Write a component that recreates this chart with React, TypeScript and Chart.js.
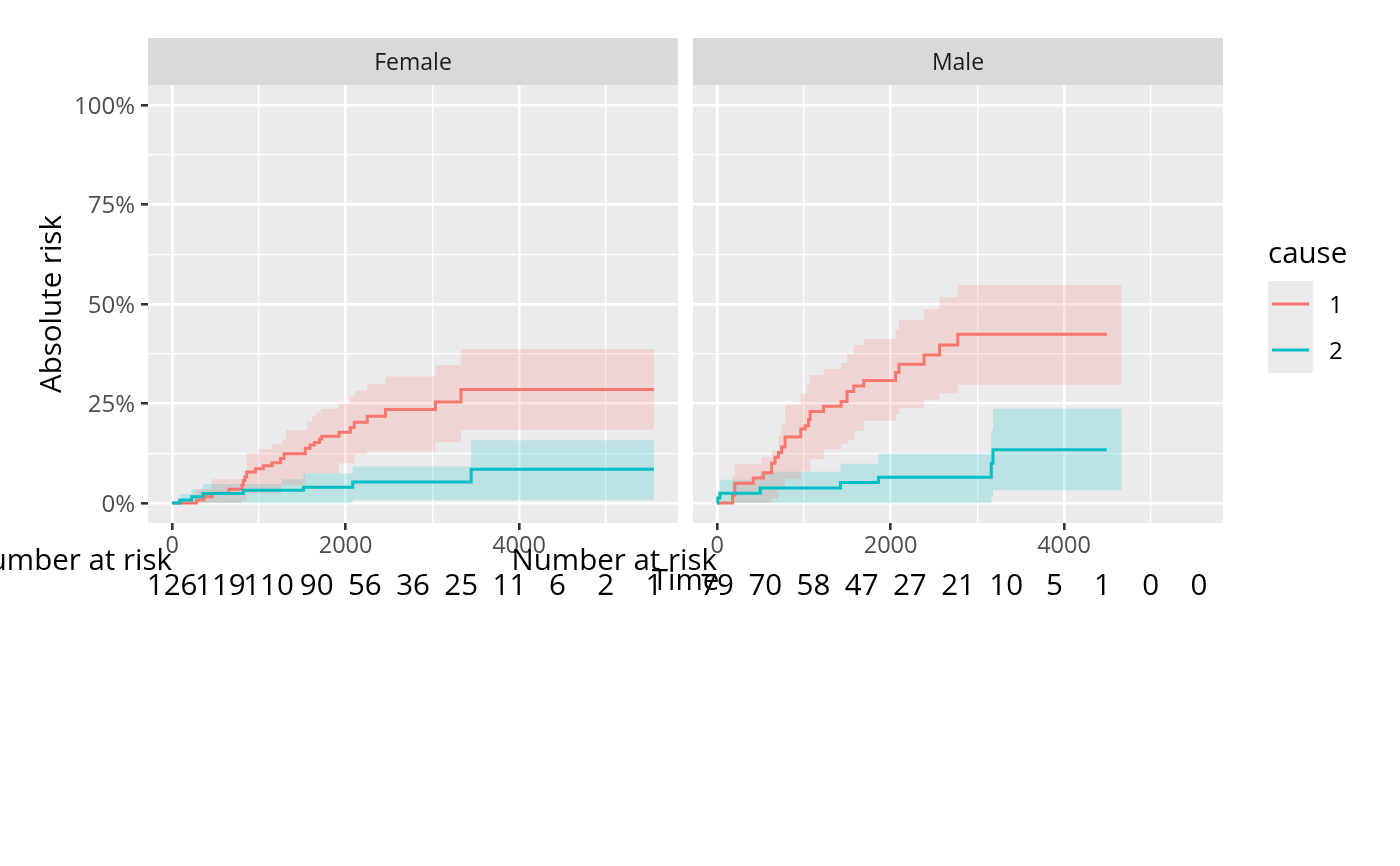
import { useEffect, useRef } from 'react';
import { Chart, registerables } from 'chart.js';

Chart.register(...registerables);

const W = 1400;
const H = 866;
const FONT = '"Open Sans", "Noto Sans", sans-serif';

const STRIP_TOP = 38;
const PANEL_TOP = 85;
const PANEL_BOTTOM = 523;

// shared scales (ggplot expands 0..5555 and 0..1 by 5%)
const xMin = -278;
const xMax = 5833;
const yMin = -0.05;
const yMax = 1.05;
const xGridValues = [0, 1000, 2000, 3000, 4000, 5000];
const xLabelled = [0, 2000, 4000];
const yGridValues = [0, 0.125, 0.25, 0.375, 0.5, 0.625, 0.75, 0.875, 1];
const yLabelled = [0, 0.25, 0.5, 0.75, 1];

const causes = ['1', '2'];
const causeColors = ['#F8766D', '#00BFC4'];
const bandColors = ['rgba(248,118,109,0.2)', 'rgba(0,191,196,0.2)'];

// number at risk table
const riskTimes = [0, 556, 1111, 1667, 2222, 2778, 3333, 3889, 4444, 5000, 5555];
const femaleAtRisk = [126, 119, 110, 90, 56, 36, 25, 11, 6, 2, 1];
const maleAtRisk = [79, 70, 58, 47, 27, 21, 10, 5, 1, 0, 0];

// Female, cause 1
const femaleC1Time = [0, 280, 370, 460, 655, 805, 822, 840, 860, 960, 1052, 1152, 1250, 1290, 1536, 1590, 1640, 1700, 1725, 1925, 2055, 2100, 2250, 2460, 3036, 3330, 5555];
const femaleC1Risk = [0, 0.008, 0.016, 0.025, 0.035, 0.045, 0.057, 0.066, 0.078, 0.086, 0.094, 0.101, 0.112, 0.124, 0.138, 0.146, 0.152, 0.161, 0.168, 0.178, 0.19, 0.203, 0.218, 0.235, 0.254, 0.285, 0.285];
const femaleC1UpperTime = [0, 280, 456, 861, 996, 1151, 1266, 1313, 1556, 1615, 1663, 1714, 1925, 2051, 2111, 2250, 2460, 3036, 3330, 5555];
const femaleC1Upper = [0, 0.035, 0.06, 0.125, 0.136, 0.148, 0.16, 0.183, 0.205, 0.219, 0.227, 0.237, 0.25, 0.267, 0.282, 0.299, 0.318, 0.347, 0.387, 0.387];
const femaleC1LowerTime = [0, 800, 860, 1266, 1536, 1925, 2100, 2250, 3036, 3330, 5555];
const femaleC1Lower = [0, 0.005, 0.025, 0.045, 0.075, 0.1, 0.122, 0.13, 0.153, 0.184, 0.184];

// Female, cause 2
const femaleC2Time = [0, 87, 226, 357, 821, 1516, 2083, 3448, 5555];
const femaleC2Risk = [0, 0.008, 0.016, 0.024, 0.032, 0.04, 0.053, 0.085, 0.085];
const femaleC2UpperTime = [0, 89, 224, 359, 1266, 1516, 2083, 3448, 5555];
const femaleC2Upper = [0, 0.023, 0.035, 0.048, 0.06, 0.075, 0.092, 0.158, 0.158];
const femaleC2LowerTime = [0, 2083, 5555];
const femaleC2Lower = [0, 0.008, 0.008];

// Male, cause 1
const maleC1Time = [0, 178, 205, 417, 533, 629, 668, 707, 745, 784, 965, 1015, 1054, 1073, 1228, 1429, 1498, 1575, 1691, 2058, 2097, 2386, 2565, 2775, 4493];
const maleC1Risk = [0, 0.02, 0.05, 0.063, 0.076, 0.1, 0.115, 0.127, 0.141, 0.166, 0.186, 0.194, 0.21, 0.23, 0.243, 0.255, 0.28, 0.294, 0.308, 0.328, 0.349, 0.372, 0.397, 0.424, 0.424];
const maleC1UpperTime = [0, 178, 205, 513, 629, 707, 745, 784, 965, 1034, 1073, 1228, 1431, 1498, 1575, 1691, 2058, 2099, 2386, 2565, 2775, 4664];
const maleC1Upper = [0, 0.07, 0.099, 0.115, 0.133, 0.169, 0.2, 0.247, 0.275, 0.3, 0.322, 0.337, 0.352, 0.375, 0.397, 0.412, 0.435, 0.46, 0.487, 0.517, 0.548, 0.548];
const maleC1LowerTime = [0, 629, 707, 784, 965, 1073, 1228, 1431, 1511, 1582, 1690, 2060, 2099, 2386, 2565, 2775, 4664];
const maleC1Lower = [0, 0.01, 0.035, 0.06, 0.08, 0.11, 0.135, 0.149, 0.159, 0.181, 0.207, 0.224, 0.238, 0.258, 0.276, 0.297, 0.297];

// Male, cause 2
const maleC2Time = [0, 8, 32, 497, 1423, 1861, 3161, 3181, 4493];
const maleC2Risk = [0, 0.0125, 0.025, 0.038, 0.052, 0.065, 0.1, 0.134, 0.134];
const maleC2UpperTime = [0, 8, 32, 497, 1423, 1861, 3161, 3181, 4664];
const maleC2Upper = [0, 0.03, 0.0585, 0.079, 0.099, 0.124, 0.184, 0.237, 0.237];
const maleC2LowerTime = [0, 3161, 3181, 4664];
const maleC2Lower = [0, 0.017, 0.032, 0.032];

const pts = (t: number[], v: number[]) => t.map((x, i) => ({ x, y: v[i] }));

interface PanelSpec {
    name: string;
    left: number;
    right: number;
    yAxisWidth: number;
    atRisk: number[];
    series: { t: number[]; v: number[]; ut: number[]; u: number[]; lt: number[]; l: number[] }[];
    first: boolean;
}

const panels: PanelSpec[] = [
    {
        name: 'Female', left: 148, right: 678, yAxisWidth: 148, atRisk: femaleAtRisk, first: true,
        series: [
            { t: femaleC1Time, v: femaleC1Risk, ut: femaleC1UpperTime, u: femaleC1Upper, lt: femaleC1LowerTime, l: femaleC1Lower },
            { t: femaleC2Time, v: femaleC2Risk, ut: femaleC2UpperTime, u: femaleC2Upper, lt: femaleC2LowerTime, l: femaleC2Lower },
        ],
    },
    {
        name: 'Male', left: 693, right: 1223, yAxisWidth: 0, atRisk: maleAtRisk, first: false,
        series: [
            { t: maleC1Time, v: maleC1Risk, ut: maleC1UpperTime, u: maleC1Upper, lt: maleC1LowerTime, l: maleC1Lower },
            { t: maleC2Time, v: maleC2Risk, ut: maleC2UpperTime, u: maleC2Upper, lt: maleC2LowerTime, l: maleC2Lower },
        ],
    },
];

const decorPlugin = {
    id: 'decor',
    beforeDraw(chart: any) {
        const { ctx, chartArea: a } = chart;
        ctx.save();
        ctx.fillStyle = '#EBEBEB';
        ctx.fillRect(a.left, a.top, a.right - a.left, a.bottom - a.top);
        ctx.restore();
    },
    afterDraw(chart: any, _args: any, opts: any) {
        const { ctx, chartArea: a } = chart;
        const x = chart.scales.x;
        ctx.save();

        // facet strip
        ctx.fillStyle = '#D9D9D9';
        ctx.fillRect(a.left, STRIP_TOP, a.right - a.left, a.top - STRIP_TOP);
        ctx.fillStyle = '#1A1A1A';
        ctx.font = `23px ${FONT}`;
        ctx.textAlign = 'center';
        ctx.textBaseline = 'alphabetic';
        ctx.fillText(opts.name, (a.left + a.right) / 2, 70);

        // number at risk
        ctx.fillStyle = '#000000';
        ctx.font = `29.5px ${FONT}`;
        ctx.textAlign = 'right';
        ctx.fillText('Number at risk', x.getPixelForValue(0), 570);

        if (opts.first) {
            ctx.textAlign = 'center';
            ctx.fillText('Time', 685.5, 590);
            ctx.save();
            ctx.translate(61, (a.top + a.bottom) / 2);
            ctx.rotate(-Math.PI / 2);
            ctx.fillText('Absolute risk', 0, 0);
            ctx.restore();
        }

        ctx.textAlign = 'center';
        opts.atRisk.forEach((n: number, i: number) => {
            ctx.fillText(String(n), x.getPixelForValue(riskTimes[i]), 595);
        });

        if (!opts.first) {
            // legend
            ctx.textAlign = 'left';
            ctx.fillText('cause', 1268, 263);
            ctx.fillStyle = '#EBEBEB';
            ctx.fillRect(1268, 281, 45, 92);
            ctx.font = `24px ${FONT}`;
            causes.forEach((c, i) => {
                const cy = 304 + i * 46;
                ctx.strokeStyle = causeColors[i];
                ctx.lineWidth = 3;
                ctx.beginPath();
                ctx.moveTo(1272, cy);
                ctx.lineTo(1309, cy);
                ctx.stroke();
                ctx.fillStyle = '#000000';
                ctx.fillText(c, 1329, cy + 8.5);
            });
        }
        ctx.restore();
    },
};

function buildChart(canvas: HTMLCanvasElement, p: PanelSpec) {
    const datasets: any[] = [];
    // lines first so they sit on top; cause 2 above cause 1
    [1, 0].forEach(i => {
        const s = p.series[i];
        datasets.push({
            label: causes[i],
            data: pts(s.t, s.v),
            borderColor: causeColors[i],
            borderWidth: 3,
            stepped: 'before',
            pointRadius: 0,
            fill: false,
        });
    });
    p.series.forEach((s, i) => {
        const lowerIndex = datasets.length + 1;
        datasets.push({
            label: `upper ${causes[i]}`,
            data: pts(s.ut, s.u),
            borderWidth: 0,
            borderColor: 'transparent',
            backgroundColor: bandColors[i],
            stepped: 'before',
            pointRadius: 0,
            fill: lowerIndex,
        });
        datasets.push({
            label: `lower ${causes[i]}`,
            data: pts(s.lt, s.l),
            borderWidth: 0,
            borderColor: 'transparent',
            stepped: 'before',
            pointRadius: 0,
            fill: false,
        });
    });

    return new Chart(canvas, {
        type: 'line',
        data: { datasets },
        plugins: [decorPlugin],
        options: {
            animation: false,
            responsive: false,
            devicePixelRatio: 1,
            layout: {
                padding: { left: p.left - p.yAxisWidth, right: W - p.right, top: PANEL_TOP, bottom: 0 },
            },
            plugins: {
                legend: { display: false },
                tooltip: { enabled: false },
                decor: { name: p.name, atRisk: p.atRisk, first: p.first },
            } as any,
            scales: {
                x: {
                    type: 'linear',
                    min: xMin,
                    max: xMax,
                    afterBuildTicks: (s: any) => { s.ticks = xGridValues.map(value => ({ value })); },
                    afterFit: (s: any) => { s.height = H - PANEL_BOTTOM; },
                    border: { display: false },
                    grid: {
                        color: '#FFFFFF',
                        lineWidth: (c: any) => (xLabelled.includes(c.tick?.value) ? 2.6 : 1.3),
                        tickColor: (c: any) => (xLabelled.includes(c.tick?.value) ? '#333333' : 'rgba(0,0,0,0)'),
                        tickWidth: 2.6,
                        tickLength: 7,
                    },
                    ticks: {
                        autoSkip: false,
                        maxRotation: 0,
                        padding: 2,
                        color: '#4D4D4D',
                        font: { family: FONT, size: 23.5 },
                        callback: (v: any) => (xLabelled.includes(v) ? String(v) : ''),
                    },
                },
                y: {
                    type: 'linear',
                    min: yMin,
                    max: yMax,
                    afterBuildTicks: (s: any) => { s.ticks = yGridValues.map(value => ({ value })); },
                    afterFit: (s: any) => { s.width = p.yAxisWidth; },
                    border: { display: false },
                    grid: {
                        color: '#FFFFFF',
                        lineWidth: (c: any) => (yLabelled.includes(c.tick?.value) ? 2.6 : 1.3),
                        tickColor: (c: any) => (yLabelled.includes(c.tick?.value) ? '#333333' : 'rgba(0,0,0,0)'),
                        tickWidth: 2.6,
                        tickLength: 7,
                        drawTicks: p.first,
                    },
                    ticks: {
                        display: p.first,
                        autoSkip: false,
                        padding: 6,
                        labelOffset: 2,
                        color: '#4D4D4D',
                        font: { family: FONT, size: 24 },
                        callback: (v: any) => (yLabelled.includes(v) ? `${Math.round(v * 100)}%` : ''),
                    },
                },
            },
        },
    });
}

export default function App() {
    const femaleRef = useRef<HTMLCanvasElement>(null);
    const maleRef = useRef<HTMLCanvasElement>(null);

    useEffect(() => {
        document.body.style.margin = '0';
        const charts: Chart[] = [];
        if (femaleRef.current) charts.push(buildChart(femaleRef.current, panels[0]));
        if (maleRef.current) charts.push(buildChart(maleRef.current, panels[1]));
        return () => {
            charts.forEach(c => c.destroy());
        };
    }, []);

    const canvasStyle = { position: 'absolute' as const, left: 0, top: 0 };

    return (
        <div style={{ position: 'relative', width: W, height: H, background: '#FFFFFF', overflow: 'hidden' }}>
            <canvas ref={femaleRef} width={W} height={H} style={canvasStyle}></canvas>
            <canvas ref={maleRef} width={W} height={H} style={canvasStyle}></canvas>
        </div>
    );
}
